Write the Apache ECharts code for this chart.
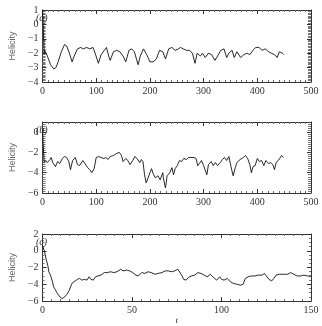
<!DOCTYPE html>
<html>
<head>
<meta charset="utf-8">
<script src="https://cdn.jsdelivr.net/npm/echarts@6/dist/echarts.min.js"></script>
<style>
  html, body { margin: 0; padding: 0; background: #fff; }
  #chart { width: 322px; height: 326px; }
</style>
</head>
<body>
<div id="chart"></div>
<script>
/* panel (a): t, helicity */
var tA = [0, 1, 3, 4, 9, 15, 21, 25, 29, 35, 41, 45, 50, 55, 59, 65, 71, 76, 82, 88, 94, 98, 104, 109, 115, 119, 124, 126, 132, 138, 144, 150, 155, 161, 166, 171, 178, 182, 188, 194, 200, 206, 212, 218, 224, 229, 235, 241, 247, 253, 257, 262, 268, 274, 279, 284, 288, 294, 298, 303, 309, 315, 321, 326, 332, 338, 343, 347, 353, 357, 362, 369, 375, 381, 386, 392, 397, 403, 409, 415, 421, 426, 432, 437, 441, 447, 449];
var vA = [1.0, 0.2, -2.0, -1.8, -2.2, -2.8, -3.1, -3.0, -2.6, -1.9, -1.4, -1.5, -2.0, -2.6, -2.2, -1.7, -1.6, -1.7, -1.6, -1.7, -1.6, -2.0, -2.7, -2.1, -1.8, -1.6, -2.3, -2.5, -1.9, -1.8, -1.9, -2.2, -2.6, -1.8, -1.7, -1.9, -2.8, -2.2, -1.7, -2.1, -2.6, -2.6, -2.4, -1.8, -1.9, -2.4, -1.7, -1.6, -1.8, -1.7, -1.6, -1.7, -1.8, -1.8, -2.0, -2.7, -2.0, -2.2, -2.0, -2.3, -2.0, -2.1, -2.5, -2.2, -1.8, -1.7, -2.3, -2.0, -1.8, -2.3, -1.9, -2.3, -2.1, -2.0, -2.1, -1.8, -1.6, -1.6, -1.8, -1.7, -1.9, -2.0, -2.1, -2.3, -1.9, -2.0, -2.1];

/* panel (b) */
var tB = [0, 1, 3, 6, 9, 14, 16, 19, 24, 28, 32, 37, 41, 45, 49, 52, 56, 61, 65, 69, 75, 79, 84, 88, 92, 96, 100, 104, 109, 114, 118, 122, 126, 132, 138, 143, 147, 150, 155, 159, 163, 168, 172, 176, 181, 184, 187, 190, 193, 196, 200, 203, 206, 210, 215, 219, 224, 225, 228, 229, 232, 237, 241, 244, 247, 251, 255, 259, 263, 268, 272, 276, 282, 286, 289, 292, 296, 300, 303, 306, 309, 314, 318, 322, 326, 331, 335, 339, 343, 347, 351, 355, 359, 362, 368, 374, 378, 382, 386, 389, 392, 396, 400, 404, 408, 412, 416, 421, 425, 429, 432, 435, 439, 443, 445, 449];
var vB = [0.2, -1.0, -3.0, -2.8, -3.0, -2.7, -2.5, -3.0, -3.4, -2.9, -3.1, -2.6, -2.4, -2.5, -2.9, -3.7, -2.8, -2.5, -3.2, -3.3, -2.8, -3.1, -3.5, -3.7, -4.0, -3.6, -2.5, -2.4, -2.5, -2.6, -2.5, -2.7, -2.4, -2.3, -2.1, -2.0, -2.3, -2.9, -2.6, -2.8, -3.2, -2.8, -2.4, -2.6, -3.0, -2.7, -2.9, -4.2, -5.0, -4.6, -4.0, -3.6, -4.1, -4.5, -4.3, -4.7, -4.0, -4.5, -5.3, -5.5, -4.3, -4.0, -3.5, -4.2, -3.6, -3.3, -2.8, -2.9, -2.6, -2.7, -2.5, -2.5, -2.5, -2.6, -3.3, -3.1, -2.8, -3.3, -3.2, -4.2, -3.2, -2.9, -3.3, -3.0, -3.3, -3.0, -2.7, -2.5, -2.8, -2.4, -3.4, -4.3, -3.5, -3.0, -2.7, -2.5, -2.3, -2.6, -3.2, -4.0, -3.4, -3.3, -2.6, -2.9, -2.8, -3.3, -2.8, -3.1, -3.0, -3.2, -3.7, -3.0, -2.8, -2.5, -2.3, -2.5];

/* panel (c) */
var tC = [0, 1, 2, 3, 3.5, 4.4, 5.3, 6.2, 7.1, 8, 8.8, 9.7, 11, 12.4, 13.6, 15, 16, 16.8, 18.2, 19.5, 20.7, 22, 23.5, 24.8, 26, 27, 28.3, 29.6, 31, 32.7, 34.5, 36.3, 38, 39.8, 41.6, 43.7, 45, 47, 48.7, 50.4, 52.2, 53.6, 55.4, 57.2, 59, 60.7, 62.8, 64.6, 66.7, 68.5, 70.3, 72, 73.8, 75.6, 76.7, 78, 78.8, 80.2, 81.4, 83.2, 85, 86.8, 88.5, 90.3, 92, 93.8, 95.6, 97.3, 99, 100, 101.4, 103.2, 105, 106.7, 108.8, 110.6, 112, 113.3, 115, 116.8, 118.6, 120.4, 121.3, 122.7, 124, 125, 126.5, 128, 129.2, 130.5, 132.3, 134.6, 136.9, 138.6, 140.4, 142.2, 144.3, 146, 147.9, 150];
var vC = [0.6, 0.0, -1.0, -1.8, -2.5, -2.9, -3.5, -4.3, -4.6, -5.0, -5.2, -5.5, -5.7, -5.5, -5.2, -4.7, -4.1, -3.8, -3.6, -3.4, -3.3, -3.5, -3.4, -3.5, -3.1, -3.4, -3.5, -3.1, -3.0, -2.9, -2.6, -2.6, -2.5, -2.6, -2.5, -2.2, -2.4, -2.3, -2.4, -2.6, -2.9, -3.0, -2.6, -2.7, -2.5, -2.6, -2.8, -2.7, -2.6, -2.4, -2.4, -2.5, -2.4, -2.2, -2.4, -3.0, -3.4, -3.5, -3.2, -3.0, -2.9, -2.6, -2.7, -2.9, -3.1, -2.8, -3.2, -3.5, -3.1, -3.4, -3.5, -3.3, -3.7, -3.9, -4.0, -4.1, -4.0, -3.3, -3.1, -3.0, -3.0, -2.9, -2.8, -2.9, -2.7, -3.0, -3.4, -3.6, -3.3, -2.9, -2.8, -2.8, -2.8, -2.6, -2.8, -3.0, -3.0, -2.9, -3.0, -3.0];

var PANEL_LABELS = ['(a)', '(b)', '(c)'];

var FONT = 'Liberation Serif';
var AXIS_COLOR = '#333';

function pairs(t, v) {
    return t.map(function (x, i) { return [x, v[i]]; });
}
function minus(v) {
    return String(v).replace('-', '\u2212');
}

/* one bottom + one top x axis for each panel */
function xAxes(gi, max, interval, name) {
    var common = {
        type: 'value', gridIndex: gi, min: 0, max: max, interval: interval,
        splitLine: { show: false },
        axisLine: { onZero: false, lineStyle: { color: AXIS_COLOR, width: 1 } },
        axisTick: { inside: true, length: 4, lineStyle: { color: AXIS_COLOR } },
        minorTick: { show: true, splitNumber: 10, length: 2, lineStyle: { color: '#666' } }
    };
    var bottom = Object.assign({}, common, {
        position: 'bottom',
        axisLabel: { color: '#333', fontFamily: FONT, fontSize: 10, margin: 4 }
    });
    if (name) {
        bottom.name = name;
        bottom.nameLocation = 'middle';
        bottom.nameGap = 13;
        bottom.nameTextStyle = { fontFamily: FONT, fontStyle: 'italic', fontSize: 9, color: '#333' };
    }
    var top = Object.assign({}, common, {
        position: 'top',
        axisLabel: { show: false }
    });
    return [bottom, top];
}

function yAxes(gi, min, max, interval, minorSplit, minorLen) {
    var common = {
        type: 'value', gridIndex: gi, min: min, max: max, interval: interval,
        splitLine: { show: false },
        axisLine: { show: true, onZero: false, lineStyle: { color: AXIS_COLOR, width: 1 } },
        axisTick: { show: true, inside: true, length: 4, lineStyle: { color: AXIS_COLOR } },
        minorTick: { show: true, splitNumber: minorSplit, length: minorLen, lineStyle: { color: '#777' } }
    };
    var left = Object.assign({}, common, {
        position: 'left',
        name: 'Helicity',
        nameLocation: 'middle',
        nameGap: 18,
        nameTextStyle: { fontFamily: 'Liberation Sans', fontSize: 9, color: '#666' },
        axisLabel: {
            color: '#333', fontFamily: FONT, fontSize: 10, margin: 4,
            showMaxLabel: max % interval === 0,
            formatter: minus
        }
    });
    var right = Object.assign({}, common, {
        position: 'right',
        axisLabel: { show: false }
    });
    return [left, right];
}

function lineSeries(gi, t, v) {
    return {
        type: 'line',
        xAxisIndex: gi * 2,
        yAxisIndex: gi * 2,
        data: pairs(t, v),
        showSymbol: false,
        lineStyle: { color: '#111', width: 0.9 },
        animation: false
    };
}

var GRID_TOPS = [10, 122, 234];

var option = {
    backgroundColor: '#fff',
    animation: false,
    grid: [
        { left: 28, right: 11, top: GRID_TOPS[0], height: 72 },
        { left: 28, right: 11, top: GRID_TOPS[1], height: 71 },
        { left: 28, right: 11, top: GRID_TOPS[2], height: 72 }
    ],
    xAxis: [].concat(
        xAxes(0, 500, 100),
        xAxes(1, 500, 100),
        xAxes(2, 150, 50, 't')
    ),
    yAxis: [].concat(
        yAxes(0, -4, 1, 1, 10, 3),
        yAxes(1, -6, 1, 2, 10, 3),
        yAxes(2, -6, 2, 2, 4, 2)
    ),
    graphic: PANEL_LABELS.map(function (txt, i) {
        return {
            type: 'text', x: 36, y: GRID_TOPS[i] + 3, z: 100,
            style: { text: txt, fontFamily: FONT, fontStyle: 'italic', fontSize: 10, fill: '#333' }
        };
    }),
    series: [
        lineSeries(0, tA, vA),
        lineSeries(1, tB, vB),
        lineSeries(2, tC, vC)
    ]
};

var chart = echarts.init(document.getElementById('chart'), null, { renderer: 'canvas' });
chart.setOption(option);
</script>
</body>
</html>
